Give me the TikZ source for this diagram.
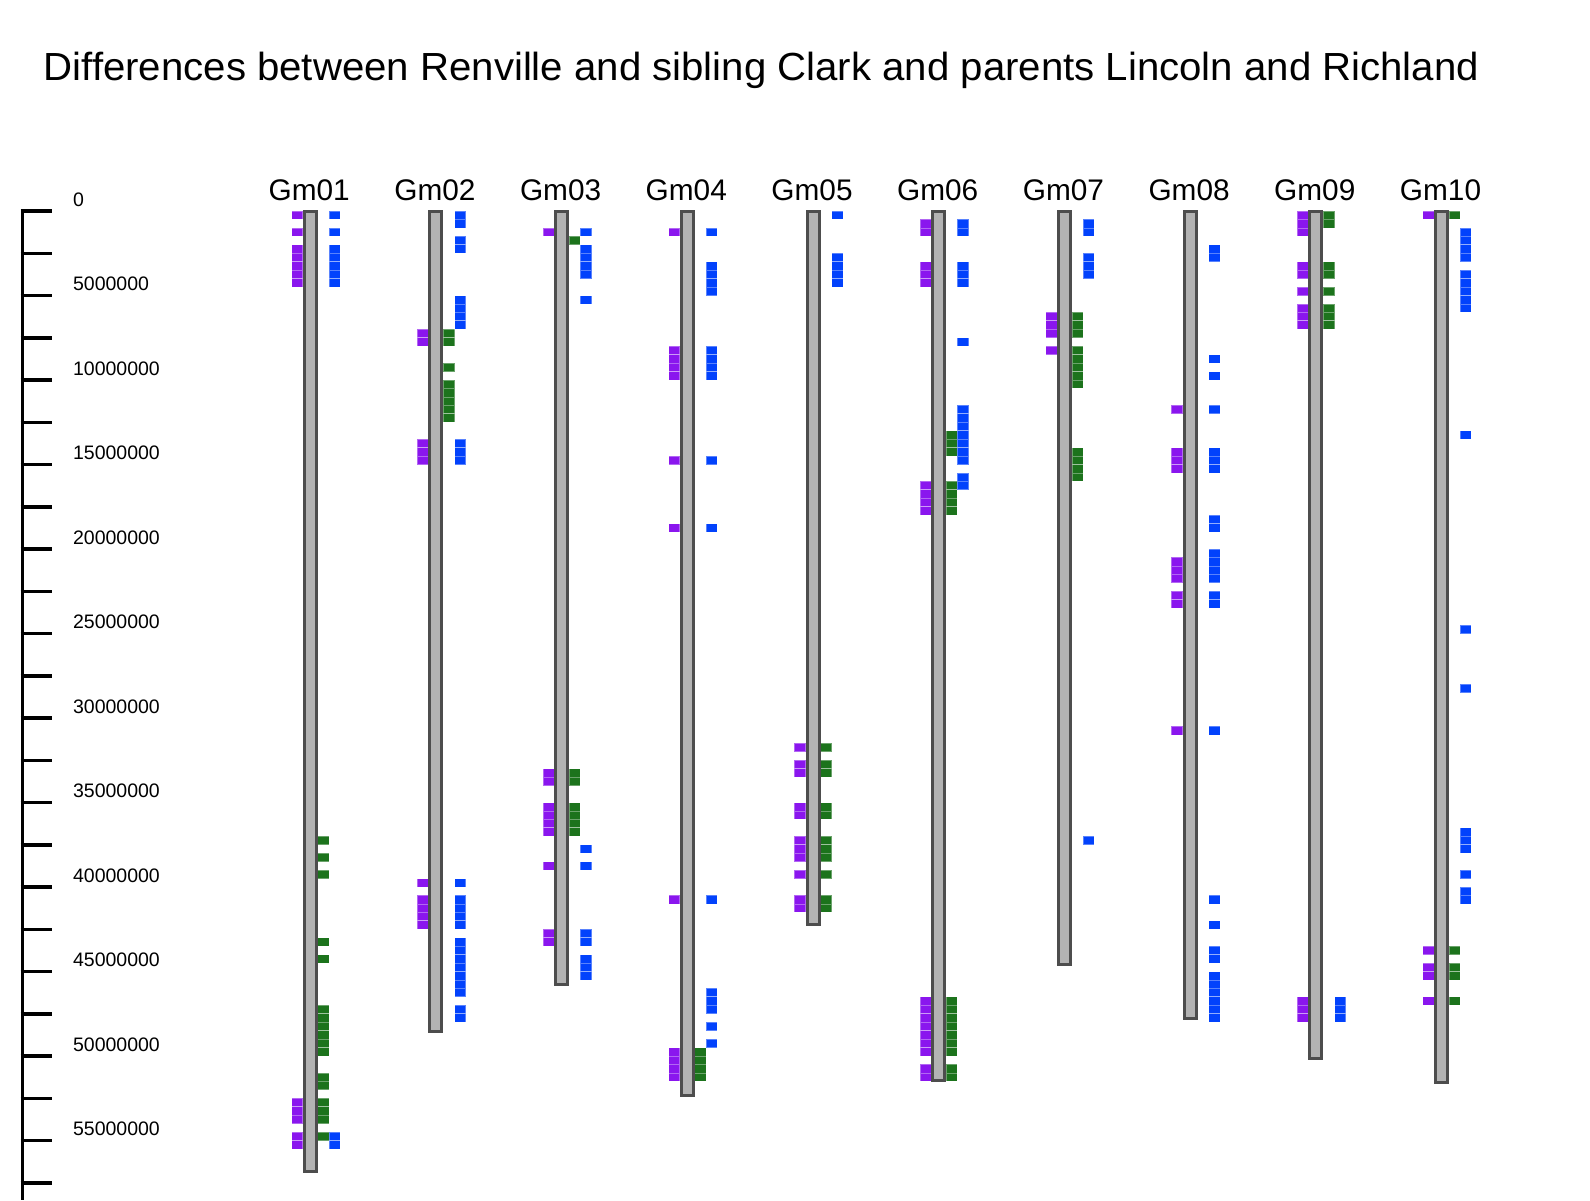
\documentclass[tikz,border=0pt]{standalone}
\usepackage{fontspec}
\setmainfont{Liberation Sans}
\definecolor{markpurple}{RGB}{138,22,238}
\definecolor{markgreen}{RGB}{28,115,28}
\definecolor{markblue}{RGB}{2,66,252}
\definecolor{barfill}{RGB}{179,179,179}
\definecolor{barline}{RGB}{77,77,77}
\tikzset{
  cellmark/.style={draw=white, draw opacity=0.35, line width=0.4pt},
  chrombar/.style={draw=barline, fill=barfill, line width=1.5pt},
  axisline/.style={draw=black, line width=1.75pt},
  chromlabel/.style={anchor=base, inner sep=0pt, font=\fontsize{14.9}{17}\selectfont},
  ticklabel/.style={anchor=base west, inner sep=0pt, font=\fontsize{9.75}{12}\selectfont},
  titletext/.style={anchor=base west, inner sep=0pt, font=\fontsize{19.6}{23}\selectfont}
}
% one row of 0.5 Mb cells beside chromosome #1, x offset #2
\newcommand{\binmarks}[4]{%
  \foreach \k in {#4} {
    \path[cellmark, fill=#3] ({310.2+125.7*(#1-1)+(#2)},{211+8.45*\k}) rectangle ++(11.2,8.45);
  }
}
% chromosome bar and its name
\newcommand{\chromosome}[3]{%
  \path[chrombar] ({310.2+125.7*(#1-1)-6},211) rectangle ({310.2+125.7*(#1-1)+6},{211+8.45*#3});
  \node[chromlabel] (#2) at ({310.2+125.7*(#1-1)-1},200) {#2};
}
\begin{document}
\begin{tikzpicture}[x=0.5pt,y=-0.5pt]
\useasboundingbox (0,0) rectangle (1590,1200);

% Text Node
\node[titletext] (title) at (43.3,80) {\scalebox{1.025}[1]{Differences between Renville and sibling Clark and parents Lincoln and Richland}};

%Scale bar
\draw[axisline] (22.3,209.3) -- (22.3,1200);
\foreach \j in {0,...,23}
  \draw[axisline] (20.7,{211+42.25*\j}) -- (51.7,{211+42.25*\j});
\foreach \j/\lab in {0/0,2/5000000,4/10000000,6/15000000,8/20000000,10/25000000,
    12/30000000,14/35000000,16/40000000,18/45000000,20/50000000,22/55000000}
  \node[ticklabel] (lab\j) at (72.7,{206+42.25*\j}) {\lab};

%Gm01
\binmarks{1}{-18.7}{markpurple}{0,2,4,5,6,7,8,105,106,107,109,110}
\binmarks{1}{7.5}{markgreen}{74,76,78,86,88,94,95,96,97,98,99,102,103,105,106,107,109}
\binmarks{1}{18.7}{markblue}{0,2,4,5,6,7,8,109,110}
\chromosome{1}{Gm01}{113.7}
%Gm02
\binmarks{2}{-18.7}{markpurple}{14,15,27,28,29,79,81,82,83,84}
\binmarks{2}{7.5}{markgreen}{14,15,18,20,21,22,23,24}
\binmarks{2}{18.7}{markblue}{0,1,3,4,10,11,12,13,27,28,29,79,81,82,83,84,86,87,88,89,90,91,92,94,95}
\chromosome{2}{Gm02}{97.1}
%Gm03
\binmarks{3}{-18.7}{markpurple}{2,66,67,70,71,72,73,77,85,86}
\binmarks{3}{7.5}{markgreen}{3,66,67,70,71,72,73}
\binmarks{3}{18.7}{markblue}{2,4,5,6,7,10,75,77,85,86,88,89,90}
\chromosome{3}{Gm03}{91.5}
%Gm04
\binmarks{4}{-18.7}{markpurple}{2,16,17,18,19,29,37,81,99,100,101,102}
\binmarks{4}{7.5}{markgreen}{99,100,101,102}
\binmarks{4}{18.7}{markblue}{2,6,7,8,9,16,17,18,19,29,37,81,92,93,94,96,98}
\chromosome{4}{Gm04}{104.7}
%Gm05
\binmarks{5}{-18.7}{markpurple}{63,65,66,70,71,74,75,76,78,81,82}
\binmarks{5}{7.5}{markgreen}{63,65,66,70,71,74,75,76,78,81,82}
\binmarks{5}{18.7}{markblue}{0,5,6,7,8}
\chromosome{5}{Gm05}{84.4}
%Gm06
\binmarks{6}{-18.7}{markpurple}{1,2,6,7,8,32,33,34,35,93,94,95,96,97,98,99,101,102}
\binmarks{6}{7.5}{markgreen}{26,27,28,32,33,34,35,93,94,95,96,97,98,99,101,102}
\binmarks{6}{18.7}{markblue}{1,2,6,7,8,15,23,24,25,26,27,28,29,31,32}
\chromosome{6}{Gm06}{102.9}
%Gm07
\binmarks{7}{-18.7}{markpurple}{12,13,14,16}
\binmarks{7}{7.5}{markgreen}{12,13,14,16,17,18,19,20,28,29,30,31}
\binmarks{7}{18.7}{markblue}{1,2,5,6,7,74}
\chromosome{7}{Gm07}{89.2}
%Gm08
\binmarks{8}{-18.7}{markpurple}{23,28,29,30,41,42,43,45,46,61}
\binmarks{8}{18.7}{markblue}{4,5,17,19,23,28,29,30,36,37,40,41,42,43,45,46,61,81,84,87,88,90,91,92,93,94,95}
\chromosome{8}{Gm08}{95.6}
%Gm09
\binmarks{9}{-18.7}{markpurple}{0,1,2,6,7,9,11,12,13,93,94,95}
\binmarks{9}{7.5}{markgreen}{0,1,6,7,9,11,12,13}
\binmarks{9}{18.7}{markblue}{93,94,95}
\chromosome{9}{Gm09}{100.3}
%Gm10
\binmarks{10}{-18.7}{markpurple}{0,87,89,90,93}
\binmarks{10}{7.5}{markgreen}{0,87,89,90,93}
\binmarks{10}{18.7}{markblue}{2,3,4,5,7,8,9,10,11,26,49,56,73,74,75,78,80,81}
\chromosome{10}{Gm10}{103.1}

\end{tikzpicture}
\end{document}
